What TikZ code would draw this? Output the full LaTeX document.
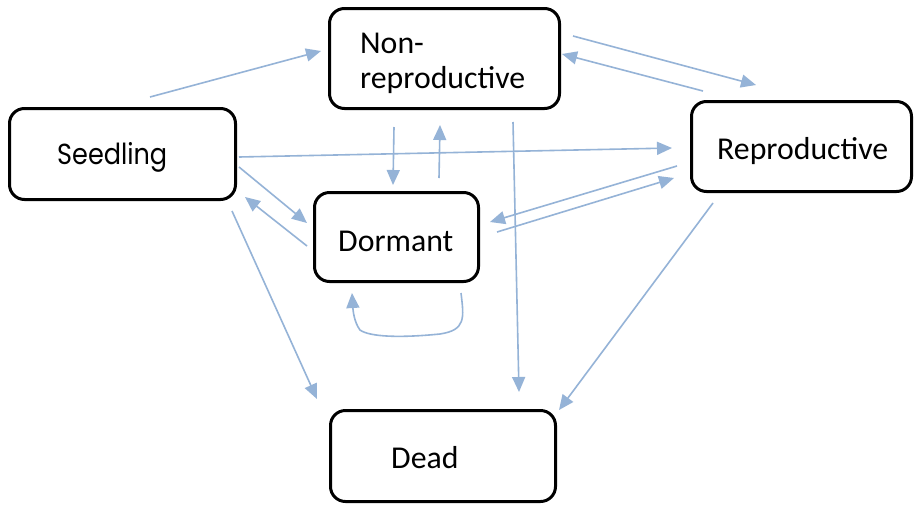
\documentclass[tikz,border=0pt]{standalone}
\usepackage{fontspec}
\setmainfont{Carlito}
\newfontfamily\seedfont{Poppins}
\usetikzlibrary{arrows.meta,calc}
\definecolor{arrblue}{HTML}{95B3D7}
\tikzset{
  statebox/.style={draw=black,line width=3pt,rounded corners=15pt,inner sep=0pt,fill=white},
  arr/.style={draw=arrblue,line width=1.6pt,-{Triangle[length=15pt,width=13pt]}},
  lbl/.style={inner sep=0pt,anchor=base west,font=\fontsize{31.8}{38}\selectfont},
}
\begin{document}
\begin{tikzpicture}[x=1pt,y=-1pt]
\useasboundingbox[fill=white] (0,0) rectangle (915,504);
% boxes
\node[statebox,minimum width=226pt,minimum height=91pt] (seed) at (122.5,154) {};
\node[statebox,minimum width=230pt,minimum height=100pt] (nonrep) at (444.5,58.5) {};
\node[statebox,minimum width=220pt,minimum height=90pt] (repr) at (801.5,146.5) {};
\node[statebox,minimum width=164pt,minimum height=89pt] (dorm) at (396.5,237) {};
\node[statebox,minimum width=225pt,minimum height=91pt] (dead) at (443,456) {};
% labels
\node[lbl,font=\seedfont\fontsize{29}{34}\selectfont] (tseed) at (57,164) {\scalebox{0.88}[1]{Seedling}};
\node[lbl] (tnonA) at (360,53) {Non-};
\node[lbl] (tnonB) at (360,88) {reproductive};
\node[lbl] (trepr) at (717,159) {Reproductive};
\node[lbl] (tdorm) at (338,251) {Dormant};
\node[lbl] (tdead) at (391,468) {Dead};
% arrows
\draw[arr] ([shift={(27.5,-57)}]seed.center) -- ([shift={(-123.5,-7.5)}]nonrep.center);
\draw[arr] ([shift={(116.5,3)}]seed.center) -- ([shift={(-129.5,1.5)}]repr.center);
\draw[arr] ([shift={(116.5,13)}]seed.center) -- ([shift={(-89.5,-14)}]dorm.center);
\draw[arr] ([shift={(-89.5,9)}]dorm.center) -- ([shift={(122.5,43)}]seed.center);
\draw[arr] ([shift={(109.5,57)}]seed.center) -- ([shift={(-126,-57)}]dead.center);
\draw[arr] ([shift={(-50.5,68.5)}]nonrep.center) -- ([shift={(-3.5,-52)}]dorm.center);
\draw[arr] ([shift={(42.5,-59)}]dorm.center) -- ([shift={(-4.5,66.5)}]nonrep.center);
\draw[arr] ([shift={(68.5,63.5)}]nonrep.center) -- ([shift={(76,-64)}]dead.center);
\draw[arr] ([shift={(128.5,-22.5)}]nonrep.center) -- ([shift={(-45.5,-61.5)}]repr.center);
\draw[arr] ([shift={(-98.5,-55.5)}]repr.center) -- ([shift={(117.5,-4.5)}]nonrep.center);
\draw[arr] ([shift={(-124.5,19.5)}]repr.center) -- ([shift={(93.5,-15)}]dorm.center);
\draw[arr] ([shift={(100.5,-5)}]dorm.center) -- ([shift={(-127.5,31.5)}]repr.center);
\draw[arr] ([shift={(-88.5,56.5)}]repr.center) -- ([shift={(116,-46)}]dead.center);
% self loop on Dormant
\draw[arr] ([shift={(64.5,56)}]dorm.center)
  .. controls ([shift={(67.5,81)}]dorm.center) and ([shift={(69.5,93)}]dorm.center) .. ([shift={(43.5,97)}]dorm.center)
  .. controls ([shift={(3.5,101)}]dorm.center) and ([shift={(-26.5,100)}]dorm.center) .. ([shift={(-36.5,93)}]dorm.center)
  .. controls ([shift={(-42.5,85)}]dorm.center) and ([shift={(-43.5,73)}]dorm.center) .. ([shift={(-44.5,56)}]dorm.center);
\end{tikzpicture}
\end{document}
